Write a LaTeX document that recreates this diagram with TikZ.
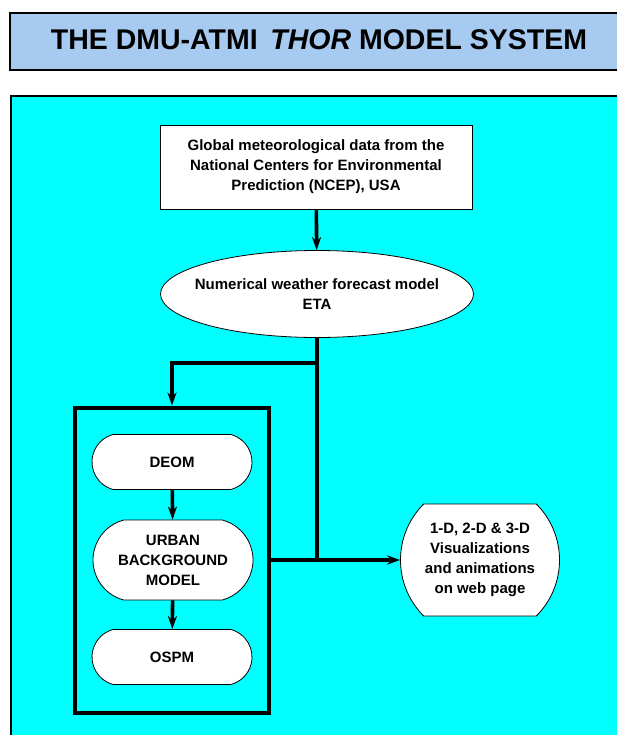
\documentclass[tikz,border=0pt]{standalone}
\usepackage{fontspec}
\setmainfont{Liberation Sans}
\usetikzlibrary{shapes.geometric,shapes.misc,arrows.meta}
\definecolor{titleblue}{HTML}{A6CAF0}
\definecolor{panelcyan}{HTML}{00FFFF}
\begin{document}
\begin{tikzpicture}[x=1pt,y=-1pt,
  txt/.style={font=\bfseries\fontsize{15}{20}\selectfont, align=center, text=black},
  whitebox/.style={txt, draw, fill=white, line width=0.8pt, inner sep=0pt},
  stadium/.style={whitebox, rounded rectangle, rounded rectangle arc length=150, minimum width=160pt},
  conn/.style={line width=3.6pt, -{Stealth[length=13pt,width=9pt,inset=4pt]}},
  plain/.style={line width=3.6pt},
]
\useasboundingbox (0,0) rectangle (617,735);
\clip (0,0) rectangle (617,735);
% title bar
\draw[fill=titleblue, line width=1.8pt] (10,13) rectangle (650,70);
\node[font=\bfseries\fontsize{28.5}{30}\selectfont, inner sep=0pt] (title) at (319,40)
  {THE DMU-ATMI\, \textit{THOR} MODEL SYSTEM};
% panel
\draw[fill=panelcyan, line width=1.8pt] (11,96) rectangle (650,760);
% nodes
\node[whitebox, minimum width=312pt, minimum height=84pt] (ncep) at (316,167)
  {Global meteorological data from the\\National Centers for Environmental\\Prediction (NCEP), USA};
\node[draw, fill=white, line width=0.8pt, ellipse, inner sep=0pt, minimum width=313pt, minimum height=87pt] (eta) at (317,294) {};
\node[txt, inner sep=0pt] (etatext) at (eta.center) {Numerical weather forecast model\\ETA};
\node[draw, line width=4pt, minimum width=194pt, minimum height=305pt, inner sep=0pt] (inner) at (172,560) {};
\node[stadium, minimum height=55pt] (deom) at (172,462) {DEOM};
\node[stadium, minimum height=80pt] (urban) at (173,560) {URBAN\\BACKGROUND\\MODEL};
\node[stadium, minimum height=55pt] (ospm) at (172,657) {OSPM};
\node[whitebox, rounded rectangle, rounded rectangle arc length=90, minimum width=159pt, minimum height=112pt] (vis) at (480,560)
  {1-D, 2-D \& 3-D\\Visualizations\\and animations\\on web page};
\coordinate (split) at (318,363);
% connectors
\draw[conn] (ncep) -- (eta);
\draw[plain] (eta.south) -- (eta.south |- inner.east);
\draw[conn] (split) -| (inner.north);
\draw[conn] (inner.east) -- (vis.west);
\draw[conn] (deom) -- (urban);
\draw[conn] (urban) -- (ospm);
\end{tikzpicture}
\end{document}
